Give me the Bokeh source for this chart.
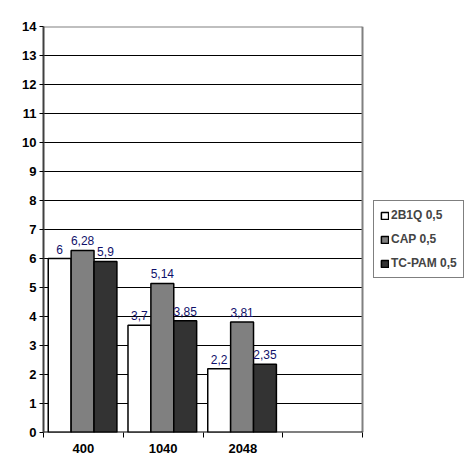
from bokeh.plotting import figure
from bokeh.models import FixedTicker, Legend, LegendItem, ColumnDataSource, Range1d
from bokeh.core.properties import value
from bokeh.embed import file_html
from bokeh.resources import INLINE

categories = ["400", "1040", "2048", ""]
series_names = ["2B1Q 0,5", "CAP 0,5", "TC-PAM 0,5"]
s_2b1q = [6, 3.7, 2.2]
s_cap = [6.28, 5.14, 3.81]
s_tcpam = [5.9, 3.85, 2.35]
colors = ["#ffffff", "#808080", "#333333"]
y_ticks = list(range(0, 15))

n_cat = len(categories)
plot_w = 319          # pixel width of the category area
frame_w = 423         # frame extends to hold the legend
x_end = n_cat * frame_w / plot_w

p = figure(width=468, height=468, output_backend="svg", toolbar_location=None,
           x_range=Range1d(0, x_end), y_range=Range1d(0, 14),
           min_border_left=43, min_border_right=468 - 43 - frame_w,
           min_border_top=26, min_border_bottom=36)
p.background_fill_color = "white"
p.outline_line_color = None

font = "Liberation Sans"

# plot-area grid and border (limited to the category area)
grid_y = y_ticks[1:-1]
p.segment(x0=[0] * len(grid_y), y0=grid_y, x1=[n_cat] * len(grid_y), y1=grid_y,
          line_color="black", line_width=1)
p.segment(x0=[0, n_cat], y0=[14, 0], x1=[n_cat, n_cat], y1=[14, 14],
          line_color="#808080", line_width=2)

w = 0.287
offsets = [-w, 0, w]
renderers = []
for k, (vals, col) in enumerate(zip([s_2b1q, s_cap, s_tcpam], colors)):
    xs = [i + 0.49 + offsets[k] for i in range(len(vals))]
    src = ColumnDataSource(dict(x=xs, top=vals,
                                lab=[str(v).replace(".", ",") for v in vals]))
    r = p.vbar(x="x", top="top", width=w, bottom=0, source=src,
               fill_color=col, line_color="black", line_width=1.5)
    renderers.append(r)
    p.text(x="x", y="top", text="lab", source=src, text_align="center",
           text_baseline="bottom", y_offset=-5, text_color="#10106a",
           text_font=value(font), text_font_size="12px")

# bottom axis line
p.segment(x0=[0], y0=[0], x1=[n_cat], y1=[0], line_color="black", line_width=2)

# axes
p.yaxis.ticker = FixedTicker(ticks=y_ticks)
p.yaxis.major_label_text_font = font
p.yaxis.major_label_text_font_style = "bold"
p.yaxis.major_label_text_font_size = "13px"
p.yaxis.major_label_text_color = "black"
p.yaxis.major_tick_in = 0
p.yaxis.major_tick_out = 4
p.yaxis.major_tick_line_color = "black"
p.yaxis.minor_tick_line_color = None
p.yaxis.axis_line_color = "#404040"
p.yaxis.axis_line_width = 2
p.yaxis.major_label_standoff = 3

centers = [i + 0.5 for i in range(n_cat)]
p.xaxis.ticker = FixedTicker(ticks=centers, minor_ticks=list(range(0, n_cat + 1)))
p.xaxis.major_label_overrides = {c: lab for c, lab in zip(centers, categories)}
p.xaxis.major_tick_line_color = None
p.xaxis.minor_tick_line_color = "black"
p.xaxis.minor_tick_in = 0
p.xaxis.minor_tick_out = 5
p.xaxis.major_label_text_font = font
p.xaxis.major_label_text_font_style = "bold"
p.xaxis.major_label_text_font_size = "13px"
p.xaxis.major_label_text_color = "black"
p.xaxis.major_label_standoff = 5
p.xaxis.axis_line_color = None

p.xgrid.grid_line_color = None
p.ygrid.grid_line_color = None

legend = Legend(items=[LegendItem(label=n, renderers=[r]) for n, r in zip(series_names, renderers)],
                location=(330, 154))
legend.label_text_font = font
legend.label_text_font_style = "bold"
legend.label_text_font_size = "12px"
legend.label_height = 16
legend.glyph_height = 9
legend.glyph_width = 9
legend.spacing = 8
legend.padding = 6
legend.margin = 0
legend.label_standoff = 2
legend.border_line_color = "black"
legend.border_line_width = 1
legend.background_fill_color = "white"
p.add_layout(legend, "center")

open("out.html", "w").write(file_html(p, INLINE))
